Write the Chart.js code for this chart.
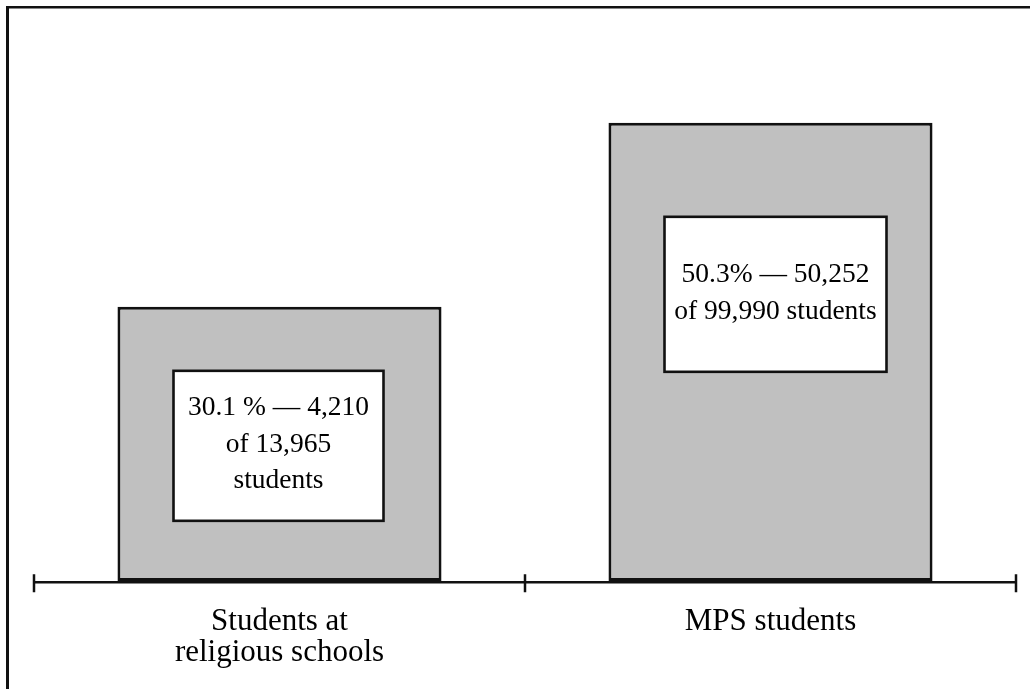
<!DOCTYPE html>
<html>
<head>
<meta charset="utf-8">
<title>Students at religious schools vs MPS students</title>
<script src="https://cdn.jsdelivr.net/npm/chart.js@4/dist/chart.umd.min.js"></script>
<style>
  html, body { margin: 0; padding: 0; background: #fff; }
  canvas { display: block; }
</style>
</head>
<body>
<canvas id="chart" width="1030" height="689"></canvas>
<script>
// Category labels (multi-line labels are arrays)
const categories = [["Students at", "religious schools"], "MPS students"];
// Share of students, in percent
const shares = [30.1, 50.3];
// Text shown in the white callout inside each bar
const calloutLines = [
  ["30.1 % \u2014 4,210", "of 13,965", "students"],
  ["50.3% \u2014 50,252", "of 99,990 students"]
];

// Callout box styling per bar: size, offset from the bar top, horizontal shift
const calloutBoxes = [
  { w: 210, h: 150, top: 64, dx: -1 },
  { w: 222, h: 155, top: 94, dx: 5 }
];

const SERIF = '"Liberation Serif", "Times New Roman", Times, serif';
const INK = '#111';

// Outer frame (top and left rules) behind the chart
const framePlugin = {
  id: 'frame',
  beforeDraw(chart) {
    const ctx = chart.ctx;
    ctx.save();
    ctx.fillStyle = '#fff';
    ctx.fillRect(0, 0, chart.width, chart.height);
    ctx.fillStyle = INK;
    ctx.fillRect(6, 6, chart.width - 6, 2.5);
    ctx.fillRect(6, 6, 3, chart.height - 6);
    ctx.restore();
  }
};

// Baseline with tick marks crossing it at the category boundaries
const baselinePlugin = {
  id: 'baseline',
  afterDatasetsDraw(chart) {
    const x = chart.scales.x;
    const area = chart.chartArea;
    const ctx = chart.ctx;
    const y = area.bottom + 1.3;
    const n = chart.data.labels.length;
    const bounds = [];
    for (let i = 0; i <= n; i++) {
      if (i === 0) bounds.push(x.left);
      else if (i === n) bounds.push(x.right);
      else bounds.push((x.getPixelForValue(i - 1) + x.getPixelForValue(i)) / 2);
    }
    ctx.save();
    ctx.strokeStyle = INK;
    ctx.lineWidth = 2.5;
    ctx.beginPath();
    ctx.moveTo(x.left, y);
    ctx.lineTo(x.right, y);
    bounds.forEach(b => {
      ctx.moveTo(b, y - 8);
      ctx.lineTo(b, y + 10);
    });
    ctx.stroke();
    ctx.restore();
  }
};

// White callout boxes with the value text inside each bar
const calloutPlugin = {
  id: 'callouts',
  afterDatasetsDraw(chart) {
    const ctx = chart.ctx;
    const meta = chart.getDatasetMeta(0);
    meta.data.forEach((bar, i) => {
      const box = calloutBoxes[i];
      const lines = calloutLines[i];
      const cx = bar.x + box.dx;
      const left = cx - box.w / 2;
      const top = bar.y + box.top;
      ctx.save();
      ctx.fillStyle = '#fff';
      ctx.fillRect(left, top, box.w, box.h);
      ctx.strokeStyle = INK;
      ctx.lineWidth = 2.6;
      ctx.strokeRect(left, top, box.w, box.h);
      ctx.fillStyle = '#000';
      ctx.font = '27.5px ' + SERIF;
      ctx.textAlign = 'center';
      ctx.textBaseline = 'alphabetic';
      const lh = 36.5;
      const mid = top + box.h / 2 - 3;
      lines.forEach((t, k) => {
        const yb = mid + (k - (lines.length - 1) / 2) * lh + 9;
        ctx.fillText(t, cx, yb);
      });
      ctx.restore();
    });
  }
};

new Chart(document.getElementById('chart'), {
  type: 'bar',
  data: {
    labels: categories,
    datasets: [{
      data: shares,
      backgroundColor: '#c0c0c0',
      borderColor: INK,
      borderWidth: 3,
      borderSkipped: false,
      categoryPercentage: 1,
      barPercentage: 0.66
    }]
  },
  options: {
    responsive: false,
    animation: false,
    devicePixelRatio: 1,
    layout: { padding: { top: 80, left: 34, right: 14, bottom: 0 } },
    plugins: {
      legend: { display: false },
      tooltip: { enabled: false }
    },
    scales: {
      y: {
        display: false,
        min: 0,
        max: 55
      },
      x: {
        grid: { display: false, drawTicks: false, tickLength: 0 },
        border: { display: false },
        ticks: {
          color: '#000',
          padding: 25,
          maxRotation: 0,
          autoSkip: false,
          font: { family: SERIF, size: 31, lineHeight: 1.0 }
        },
        afterFit(scale) { scale.height = 108; }
      }
    }
  },
  plugins: [framePlugin, baselinePlugin, calloutPlugin]
});
</script>
</body>
</html>
